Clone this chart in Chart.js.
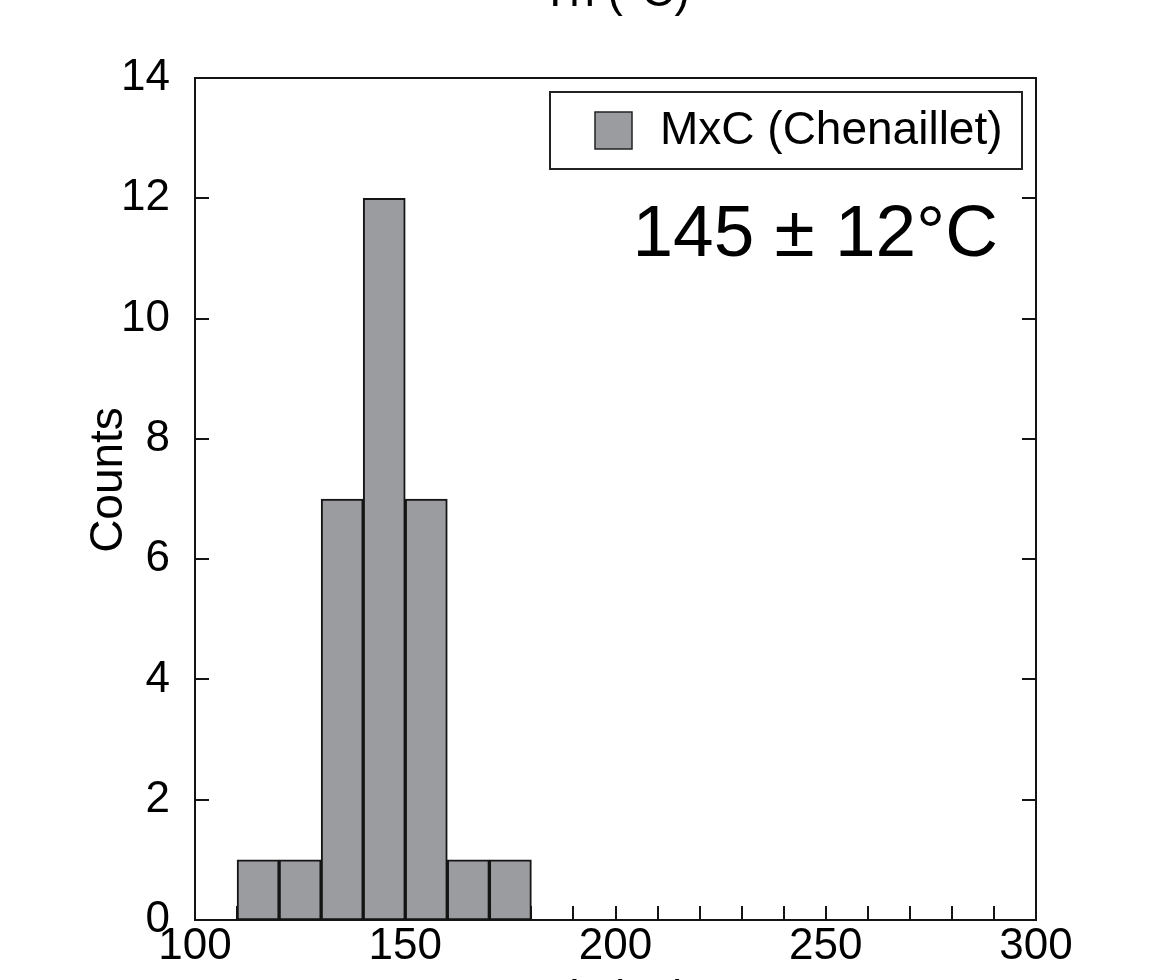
<!DOCTYPE html>
<html>
<head>
<meta charset="utf-8">
<script src="https://cdn.jsdelivr.net/npm/chart.js@4.4.1/dist/chart.umd.min.js"></script>
<style>
  html, body { margin: 0; padding: 0; background: #fff; overflow: hidden; }
  #wrap { position: absolute; left: 0; top: -40px; width: 1153px; height: 1070px; }
</style>
</head>
<body>
<div id="wrap"><canvas id="chart" width="1153" height="1070"></canvas></div>
<script>
// histogram data
const binStarts = [110, 120, 130, 140, 150, 160, 170];
const counts = [1, 1, 7, 12, 7, 1, 1];
const binWidth = 10;

const xMin = 100, xMax = 300, xStep = 10, xLabelStep = 50;
const yMin = 0, yMax = 14, yStep = 2;

const seriesLabel = 'MxC (Chenaillet)';
const statText = '145 \u00B1 12\u00B0C';
const xTitle = 'Th (\u00B0C)';
const yTitle = 'Counts';
const topTitle = 'Th (\u00B0C)';

const barColor = '#9a9c9f';
const ink = '#141414';
const FONT = "'Liberation Sans', Arial, sans-serif";

const histData = binStarts.map((s, i) => ({ x: s + binWidth / 2, y: counts[i] }));

// inward tick marks, drawn under the bars
const tickMarks = {
  id: 'tickMarks',
  beforeDatasetsDraw(chart) {
    const { ctx, chartArea: a, scales: { x, y } } = chart;
    const len = 14;
    ctx.save();
    ctx.strokeStyle = ink;
    ctx.lineWidth = 2;
    ctx.beginPath();
    x.ticks.forEach(t => {
      const px = Math.round(x.getPixelForValue(t.value));
      ctx.moveTo(px, a.bottom);
      ctx.lineTo(px, a.bottom - len);
    });
    y.ticks.forEach(t => {
      const py = Math.round(y.getPixelForValue(t.value));
      ctx.moveTo(a.left, py);
      ctx.lineTo(a.left + len, py);
      ctx.moveTo(a.right, py);
      ctx.lineTo(a.right - len, py);
    });
    ctx.stroke();
    ctx.restore();
  }
};

// frame, legend box, stat label and the titles
const overlay = {
  id: 'overlay',
  afterDatasetsDraw(chart) {
    const { ctx, chartArea: a } = chart;
    const ds = chart.data.datasets[0];
    const cx = (a.left + a.right) / 2;
    ctx.save();
    ctx.strokeStyle = ink;
    ctx.lineWidth = 2;
    ctx.strokeRect(a.left, a.top, a.right - a.left, a.bottom - a.top);

    // legend
    const lw = 472, lh = 77;
    const lx = a.right - 486, ly = a.top + 14;
    ctx.fillStyle = '#fff';
    ctx.fillRect(lx, ly, lw, lh);
    ctx.strokeStyle = '#222';
    ctx.lineWidth = 2;
    ctx.strokeRect(lx, ly, lw, lh);
    ctx.fillStyle = ds.backgroundColor;
    ctx.fillRect(lx + 45, ly + 20, 37, 37);
    ctx.lineWidth = 1.5;
    ctx.strokeRect(lx + 45, ly + 20, 37, 37);
    ctx.fillStyle = '#000';
    ctx.font = '46px ' + FONT;
    ctx.textBaseline = 'middle';
    ctx.textAlign = 'left';
    ctx.fillText(ds.label, lx + 110, ly + lh / 2 + 1);

    // stat
    ctx.font = '73px ' + FONT;
    ctx.textAlign = 'right';
    ctx.textBaseline = 'alphabetic';
    ctx.fillText(statText, a.right - 38, a.top + 178);

    // titles (top one belongs to the panel above, mostly cut off)
    ctx.font = '46px ' + FONT;
    ctx.textAlign = 'center';
    ctx.fillText(topTitle, cx, a.top - 72);
    ctx.fillText(xTitle, cx, a.bottom + 93);
    ctx.translate(a.left - 73, (a.top + a.bottom) / 2 - 19);
    ctx.rotate(-Math.PI / 2);
    ctx.fillText(yTitle, 0, 0);
    ctx.restore();
  }
};

new Chart(document.getElementById('chart'), {
  type: 'bar',
  data: {
    datasets: [{
      label: seriesLabel,
      data: histData,
      backgroundColor: barColor,
      borderColor: ink,
      borderWidth: 2,
      borderSkipped: false,
      barPercentage: 1,
      categoryPercentage: 1
    }]
  },
  options: {
    responsive: false,
    animation: false,
    layout: { padding: { left: 0, right: 117, top: 118, bottom: 0 } },
    plugins: {
      legend: { display: false },
      tooltip: { enabled: false },
      title: { display: false }
    },
    scales: {
      x: {
        type: 'linear',
        min: xMin,
        max: xMax,
        offset: false,
        grid: { display: false, drawTicks: false },
        border: { display: false },
        afterBuildTicks(scale) {
          const ticks = [];
          for (let v = xMin; v <= xMax; v += xStep) ticks.push({ value: v });
          scale.ticks = ticks;
        },
        afterFit(scale) { scale.height = 110; },
        ticks: {
          autoSkip: false,
          maxRotation: 0,
          padding: 0,
          color: '#000',
          font: { family: FONT, size: 44 },
          callback: v => (v % xLabelStep === 0 ? String(v) : '')
        }
      },
      y: {
        min: yMin,
        max: yMax,
        grid: { display: false, drawTicks: false },
        border: { display: false },
        afterFit(scale) { scale.width = 195; },
        ticks: {
          stepSize: yStep,
          padding: 25,
          color: '#000',
          font: { family: FONT, size: 44 }
        }
      }
    }
  },
  plugins: [tickMarks, overlay]
});
</script>
</body>
</html>
